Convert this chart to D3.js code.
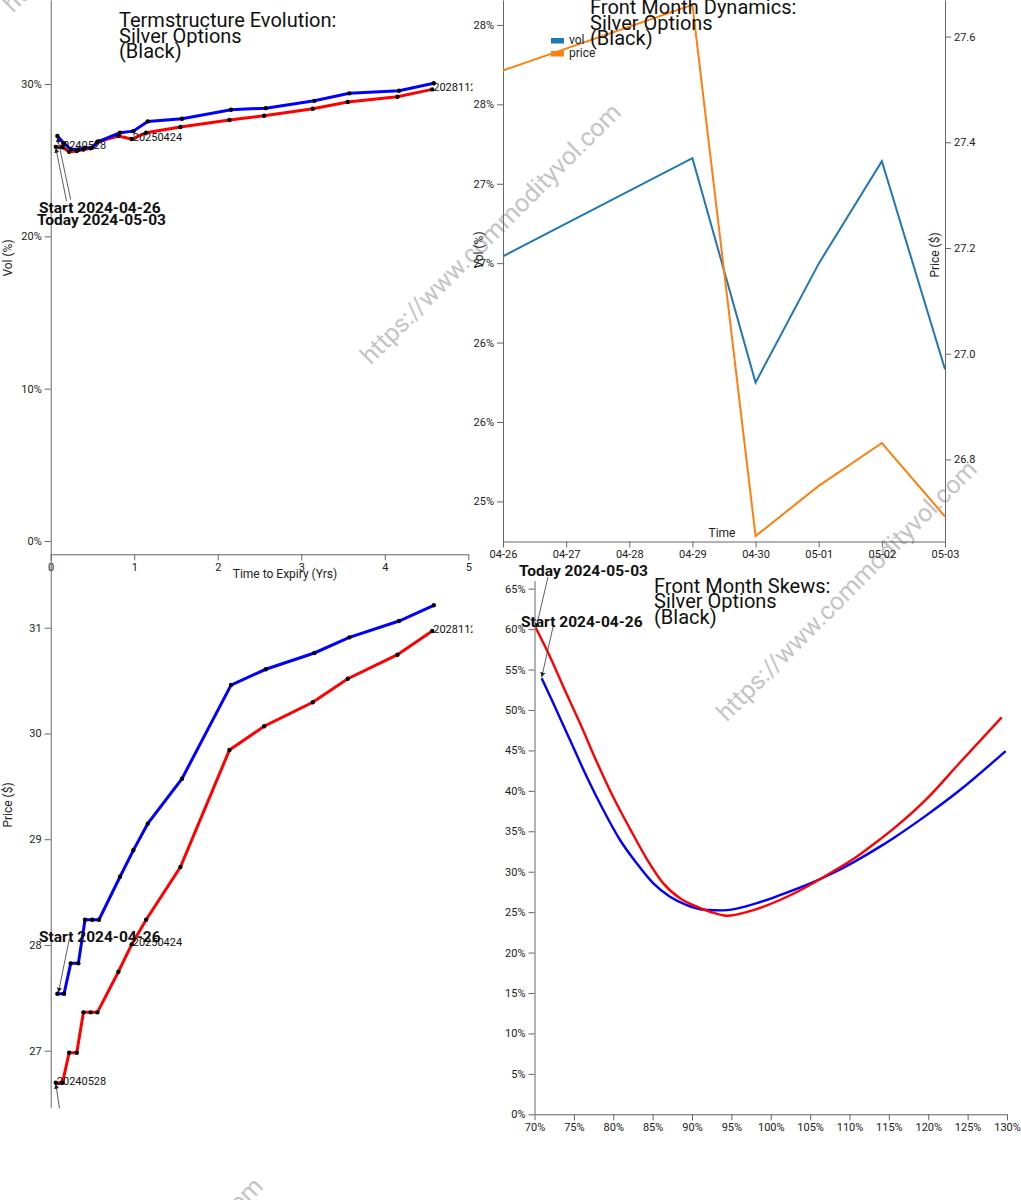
<!DOCTYPE html>
<html><head><meta charset="utf-8">
<script src="https://cdn.jsdelivr.net/npm/d3@7"></script>
<style>
body{margin:0;background:#fff;overflow:hidden;}
svg{display:block;font-family:Roboto,"Noto Sans",sans-serif;}
</style></head><body>
<svg id="c" width="1021" height="1200"></svg>
<script>
// ---------------- DATA ----------------
const startLabel = "Start 2024-04-26";
const todayLabel = "Today 2024-05-03";
const watermarkText = "https://www.commodityvol.com";
const titleLines = ["Silver Options", "(Black)"];

// Term structure (years to expiry)
const tsStartTenor = [0.080, 0.160, 0.240, 0.331, 0.411, 0.498, 0.578, 0.830, 0.989, 1.162, 1.572, 2.159, 2.575, 3.157, 3.576, 4.171, 4.587];
const tsTodayTenor = [0.061, 0.141, 0.221, 0.312, 0.392, 0.479, 0.559, 0.811, 0.970, 1.143, 1.553, 2.140, 2.556, 3.138, 3.557, 4.152, 4.568];
const tsStartVol = [0.2659, 0.2610, 0.2573, 0.2570, 0.2582, 0.2583, 0.2624, 0.2680, 0.2691, 0.2755, 0.2772, 0.2831, 0.2842, 0.2890, 0.2939, 0.2956, 0.3005];
const tsTodayVol = [0.2588, 0.2585, 0.2555, 0.2560, 0.2570, 0.2578, 0.2621, 0.2659, 0.2639, 0.2680, 0.2718, 0.2764, 0.2792, 0.2838, 0.2882, 0.2917, 0.2965];
const tsStartPrice = [27.539, 27.539, 27.826, 27.826, 28.239, 28.239, 28.239, 28.645, 28.895, 29.147, 29.572, 30.458, 30.607, 30.761, 30.909, 31.063, 31.212];
const tsTodayPrice = [26.697, 26.697, 26.981, 26.981, 27.363, 27.363, 27.363, 27.747, 28.006, 28.239, 28.737, 29.843, 30.068, 30.295, 30.518, 30.745, 30.969];
const tsLabelIndex = [0, 8, 16];
const tsExpiryLabels = ["20240528", "20250424", "20281127"];
const tsXTicks = [0, 1, 2, 3, 4, 5];
const tsXTickLabels = ["0", "1", "2", "3", "4", "5"];
const tsVolTicks = [0, 0.1, 0.2, 0.3];
const tsVolTickLabels = ["0%", "10%", "20%", "30%"];
const tsPriceTicks = [27, 28, 29, 30, 31];
const tsPriceTickLabels = ["27", "28", "29", "30", "31"];

// Front month dynamics
const fmDates = ["2024-04-26", "2024-04-29", "2024-04-30", "2024-05-01", "2024-05-02", "2024-05-03"];
const fmVol = [0.26543, 0.27161, 0.25748, 0.26497, 0.27142, 0.25832];
const fmPrice = [27.536, 27.660, 26.655, 26.750, 26.831, 26.692];
const fmDateTicks = ["2024-04-26", "2024-04-27", "2024-04-28", "2024-04-29", "2024-04-30", "2024-05-01", "2024-05-02", "2024-05-03"];
const fmDateTickLabels = ["04-26", "04-27", "04-28", "04-29", "04-30", "05-01", "05-02", "05-03"];
const fmVolTicks = [0.25, 0.255, 0.26, 0.265, 0.27, 0.275, 0.28];
const fmVolTickLabels = ["25%", "26%", "26%", "27%", "27%", "28%", "28%"];
const fmPriceTicks = [26.8, 27.0, 27.2, 27.4, 27.6];
const fmPriceTickLabels = ["26.8", "27.0", "27.2", "27.4", "27.6"];
const fmSeries = ["vol", "price"];

// Front month skews (moneyness, vol)
const skTodayMoney = [0.7019, 0.7197, 0.7366, 0.7578, 0.7790, 0.8001, 0.8213, 0.8425, 0.8636, 0.8848, 0.9060, 0.9229, 0.9441, 0.9778, 1.0117, 1.0457, 1.0752, 1.1091, 1.1387, 1.1556, 1.1980, 1.2403, 1.2933];
const skTodayVol = [0.6010, 0.5658, 0.5287, 0.4835, 0.4360, 0.3920, 0.3530, 0.3160, 0.2856, 0.2671, 0.2567, 0.2505, 0.2456, 0.2526, 0.2650, 0.2814, 0.2980, 0.3185, 0.3400, 0.3530, 0.3900, 0.4350, 0.4909];
const skStartMoney = [0.7091, 0.7239, 0.7451, 0.7663, 0.7874, 0.8086, 0.8298, 0.8509, 0.8721, 0.8933, 0.9150, 0.9397, 0.9695, 1.0117, 1.0540, 1.0752, 1.1048, 1.1387, 1.1556, 1.1980, 1.2403, 1.2983];
const skStartVol = [0.5391, 0.5082, 0.4628, 0.4175, 0.3763, 0.3392, 0.3104, 0.2856, 0.2691, 0.2588, 0.2530, 0.2522, 0.2575, 0.2710, 0.2870, 0.2965, 0.3115, 0.3310, 0.3415, 0.3700, 0.4010, 0.4492];
const skXTicks = [0.70, 0.75, 0.80, 0.85, 0.90, 0.95, 1.00, 1.05, 1.10, 1.15, 1.20, 1.25, 1.30];
const skXTickLabels = ["70%", "75%", "80%", "85%", "90%", "95%", "100%", "105%", "110%", "115%", "120%", "125%", "130%"];
const skYTicks = [0, 0.05, 0.10, 0.15, 0.20, 0.25, 0.30, 0.35, 0.40, 0.45, 0.50, 0.55, 0.60, 0.65];
const skYTickLabels = ["0%", "5%", "10%", "15%", "20%", "25%", "30%", "35%", "40%", "45%", "50%", "55%", "60%", "65%"];

// ---------------- DRAW ----------------
const svg = d3.select('#c');
const defs = svg.append('defs');
defs.append('clipPath').attr('id', 'clipTL').append('rect').attr('x', 0).attr('y', 0).attr('width', 472.5).attr('height', 600);
defs.append('clipPath').attr('id', 'clipBL').append('rect').attr('x', 0).attr('y', 554).attr('width', 472.5).attr('height', 554.3);
defs.append('marker').attr('id', 'arr').attr('viewBox', '0 0 10 10').attr('refX', 10).attr('refY', 5)
  .attr('markerWidth', 5).attr('markerHeight', 5).attr('markerUnits', 'userSpaceOnUse').attr('orient', 'auto')
  .append('path').attr('d', 'M0,0L10,5L0,10z').attr('fill', '#222');

const parse = d3.utcParse('%Y-%m-%d');

function axisStyle(g) {
  g.attr('font-family', null).attr('font-size', null);
  g.selectAll('path,line').attr('stroke', '#666');
  g.selectAll('text').attr('fill', '#222').style('font-size', '11px');
}

// watermark
[[134, -117], [492, 235], [848, 592], [134, 1309]].forEach(([cx, cy]) => {
  svg.append('text').attr('x', cx).attr('y', cy).attr('text-anchor', 'middle').attr('dominant-baseline', 'middle')
    .attr('transform', `rotate(-45,${cx},${cy})`).attr('fill', '#c4c4c4').style('font-size', '25px').text(watermarkText);
});

function title(g, x, y0, first) {
  [first].concat(titleLines).forEach((t, i) => {
    g.append('text').attr('x', x).attr('y', y0 + i * 15.5).attr('fill', '#111').style('font-size', '20px').text(t);
  });
}

// ===== TOP LEFT: term structure vol =====
const tl = svg.append('g').attr('clip-path', 'url(#clipTL)');
const xT = d3.scaleLinear().domain([0, 5]).range([50.7, 468.3]);
const yTV = d3.scaleLinear().domain([-0.00873, 0.3552]).range([554.3, 0]);
tl.append('g').attr('transform', 'translate(0,554.3)')
  .call(d3.axisBottom(xT).tickValues(tsXTicks).tickFormat((d, i) => tsXTickLabels[i]).tickSizeOuter(0)).call(axisStyle);
tl.append('g').attr('transform', 'translate(50.7,0)')
  .call(d3.axisLeft(yTV).tickValues(tsVolTicks).tickFormat((d, i) => tsVolTickLabels[i]).tickSizeOuter(0)).call(axisStyle);
tl.append('text').attr('x', 285).attr('y', 578).attr('text-anchor', 'middle').attr('fill', '#222').style('font-size', '12px').text('Time to Expiry (Yrs)');
tl.append('text').attr('transform', 'translate(12,258) rotate(-90)').attr('text-anchor', 'middle').attr('fill', '#222').style('font-size', '12px').text('Vol (%)');

function tsCurves(g, yS, startVals, todayVals) {
  const sPts = tsStartTenor.map((t, i) => [xT(t), yS(startVals[i])]);
  const tPts = tsTodayTenor.map((t, i) => [xT(t), yS(todayVals[i])]);
  const line = d3.line();
  g.append('path').attr('d', line(tPts)).attr('fill', 'none').attr('stroke', '#f00').attr('stroke-width', 3);
  g.append('path').attr('d', line(sPts)).attr('fill', 'none').attr('stroke', '#00f').attr('stroke-width', 3);
  g.selectAll(null).data(sPts.concat(tPts)).enter().append('circle')
    .attr('cx', d => d[0]).attr('cy', d => d[1]).attr('r', 2.2).attr('fill', '#000');
  tsLabelIndex.forEach((k, j) => {
    g.append('text').attr('x', tPts[k][0] + 1).attr('y', tPts[k][1] + 2).attr('fill', '#111').style('font-size', '11px').text(tsExpiryLabels[j]);
  });
  return { sPts, tPts };
}
const tlPts = tsCurves(tl, yTV, tsStartVol, tsTodayVol);
title(tl, 119, 27, "Termstructure Evolution:");
tl.append('line').attr('x1', 70.7).attr('y1', 199.5).attr('x2', tlPts.sPts[0][0]).attr('y2', tlPts.sPts[0][1] + 1)
  .attr('stroke', '#333').attr('stroke-width', 0.8).attr('marker-end', 'url(#arr)');
tl.append('line').attr('x1', 66.5).attr('y1', 201).attr('x2', tlPts.tPts[0][0]).attr('y2', tlPts.tPts[0][1] + 1)
  .attr('stroke', '#333').attr('stroke-width', 0.8).attr('marker-end', 'url(#arr)');
tl.append('text').attr('x', 39).attr('y', 213).attr('fill', '#111').style('font-size', '15.5px').style('font-weight', 'bold').text(startLabel);
tl.append('text').attr('x', 37).attr('y', 224.5).attr('fill', '#111').style('font-size', '15.5px').style('font-weight', 'bold').text(todayLabel);

// ===== BOTTOM LEFT: term structure price =====
const bl = svg.append('g').attr('clip-path', 'url(#clipBL)');
const yTP = d3.scaleLinear().domain([26.465, 31.697]).range([1107.3, 554]);
bl.append('g').attr('transform', 'translate(50.7,0)')
  .call(d3.axisLeft(yTP).tickValues(tsPriceTicks).tickFormat((d, i) => tsPriceTickLabels[i]).tickSizeOuter(0)).call(axisStyle);
bl.append('text').attr('transform', 'translate(12,805) rotate(-90)').attr('text-anchor', 'middle').attr('fill', '#222').style('font-size', '12px').text('Price ($)');
const blPts = tsCurves(bl, yTP, tsStartPrice, tsTodayPrice);
bl.append('line').attr('x1', 69.3).attr('y1', 939).attr('x2', blPts.sPts[0][0] + 1).attr('y2', blPts.sPts[0][1] - 1)
  .attr('stroke', '#333').attr('stroke-width', 0.8).attr('marker-end', 'url(#arr)');
bl.append('line').attr('x1', 62).attr('y1', 1125).attr('x2', blPts.tPts[0][0]).attr('y2', blPts.tPts[0][1] + 1)
  .attr('stroke', '#333').attr('stroke-width', 0.8).attr('marker-end', 'url(#arr)');
bl.append('text').attr('x', 39).attr('y', 942).attr('fill', '#111').style('font-size', '15.5px').style('font-weight', 'bold').text(startLabel);

// ===== TOP RIGHT: front month dynamics =====
const tr = svg.append('g');
const xD = d3.scaleUtc().domain([parse(fmDateTicks[0]), parse(fmDateTicks[fmDateTicks.length - 1])]).range([503, 945]);
const yDV = d3.scaleLinear().domain([0.247475, 0.28157]).range([541.5, 0]);
const yDP = d3.scaleLinear().domain([26.6447, 27.6693]).range([541.5, 0]);
tr.append('g').attr('transform', 'translate(0,541.5)')
  .call(d3.axisBottom(xD).tickValues(fmDateTicks.map(parse)).tickFormat((d, i) => fmDateTickLabels[i]).tickSizeOuter(0)).call(axisStyle);
tr.append('g').attr('transform', 'translate(503,0)')
  .call(d3.axisLeft(yDV).tickValues(fmVolTicks).tickFormat((d, i) => fmVolTickLabels[i]).tickSizeOuter(0)).call(axisStyle);
tr.append('g').attr('transform', 'translate(945,0)')
  .call(d3.axisRight(yDP).tickValues(fmPriceTicks).tickFormat((d, i) => fmPriceTickLabels[i]).tickSizeOuter(0)).call(axisStyle);
tr.append('path').attr('d', d3.line()(fmDates.map((d, i) => [xD(parse(d)), yDV(fmVol[i])])))
  .attr('fill', 'none').attr('stroke', '#1f77b4').attr('stroke-width', 2);
tr.append('path').attr('d', d3.line()(fmDates.map((d, i) => [xD(parse(d)), yDP(fmPrice[i])])))
  .attr('fill', 'none').attr('stroke', '#ff7f0e').attr('stroke-width', 2);
tr.append('text').attr('x', 722).attr('y', 537).attr('text-anchor', 'middle').attr('fill', '#222').style('font-size', '12px').text('Time');
tr.append('text').attr('transform', 'translate(483,250) rotate(-90)').attr('text-anchor', 'middle').attr('fill', '#222').style('font-size', '12px').text('Vol (%)');
tr.append('text').attr('transform', 'translate(939,255) rotate(-90)').attr('text-anchor', 'middle').attr('fill', '#222').style('font-size', '12px').text('Price ($)');
const legColors = ['#1f77b4', '#ff7f0e'];
fmSeries.forEach((s, i) => {
  tr.append('rect').attr('x', 551).attr('y', 38 + i * 13).attr('width', 13).attr('height', 5.5).attr('fill', legColors[i]);
  tr.append('text').attr('x', 569).attr('y', 44 + i * 13).attr('fill', '#222').style('font-size', '12px').text(s);
});
title(tr, 590, 14, "Front Month Dynamics:");

// ===== BOTTOM RIGHT: skews =====
const br = svg.append('g');
const xS = d3.scaleLinear().domain([0.70, 1.30]).range([534.5, 1007]);
const yS = d3.scaleLinear().domain([0, 0.66]).range([1114.3, 580.6]);
br.append('g').attr('transform', 'translate(0,1114.3)')
  .call(d3.axisBottom(xS).tickValues(skXTicks).tickFormat((d, i) => skXTickLabels[i]).tickSizeOuter(0)).call(axisStyle);
br.append('g').attr('transform', 'translate(534.5,0)')
  .call(d3.axisLeft(yS).tickValues(skYTicks).tickFormat((d, i) => skYTickLabels[i]).tickSizeOuter(0)).call(axisStyle);
const skStartPts = skStartMoney.map((m, i) => [xS(m), yS(skStartVol[i])]);
const skTodayPts = skTodayMoney.map((m, i) => [xS(m), yS(skTodayVol[i])]);
const smooth = d3.line().curve(d3.curveMonotoneX);
br.append('path').attr('d', smooth(skStartPts)).attr('fill', 'none').attr('stroke', '#00f').attr('stroke-width', 2.4);
br.append('path').attr('d', smooth(skTodayPts)).attr('fill', 'none').attr('stroke', '#f00').attr('stroke-width', 2.4);
title(br, 654, 592.5, "Front Month Skews:");
br.append('line').attr('x1', 548).attr('y1', 577).attr('x2', skTodayPts[0][0]).attr('y2', skTodayPts[0][1])
  .attr('stroke', '#333').attr('stroke-width', 0.8).attr('marker-end', 'url(#arr)');
br.append('line').attr('x1', 553).attr('y1', 627).attr('x2', skStartPts[0][0]).attr('y2', skStartPts[0][1] - 1)
  .attr('stroke', '#333').attr('stroke-width', 0.8).attr('marker-end', 'url(#arr)');
br.append('text').attr('x', 519).attr('y', 576).attr('fill', '#111').style('font-size', '15.5px').style('font-weight', 'bold').text(todayLabel);
br.append('text').attr('x', 521).attr('y', 626.5).attr('fill', '#111').style('font-size', '15.5px').style('font-weight', 'bold').text(startLabel);
</script>
</body></html>
